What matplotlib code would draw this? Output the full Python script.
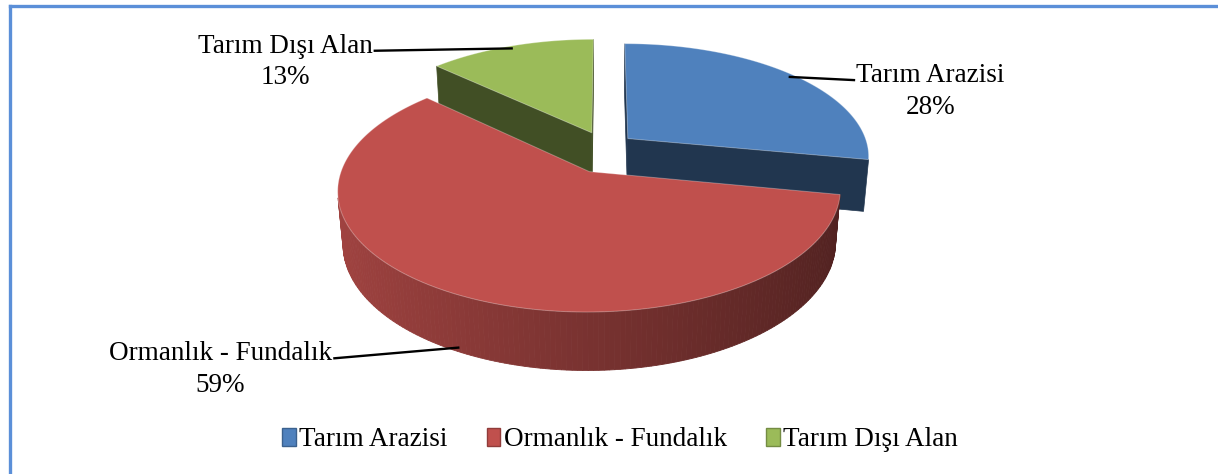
import numpy as np
import matplotlib
matplotlib.use("Agg")
import matplotlib.pyplot as plt
from matplotlib.patches import Polygon, Patch
from matplotlib.lines import Line2D
from matplotlib.colors import to_rgb

# ---- data ----
categories = ["Tarım Arazisi", "Ormanlık - Fundalık", "Tarım Dışı Alan"]
values = [28, 59, 13]
colors = ["#4F81BD", "#C0504D", "#9BBB59"]

# ---- figure ----
W, H = 1218, 474
fig = plt.figure(figsize=(W / 100, H / 100), dpi=100)
ax = fig.add_axes([0, 0, 1, 1])
ax.axis("off")

S = 242.0            # pixels per pie radius
cx, cy = 604, 152    # pixel position of pie centre
ax.set_xlim(-cx / S, (W - cx) / S)
ax.set_ylim(-(H - cy) / S, cy / S)

elev = np.radians(27.8)
ce, se = np.cos(elev), np.sin(elev)
f = 5.9
depth = 0.245
explode_x = 0.13
explode_z = 0.19
cam = np.array([0.0, f * se, -f * ce])  # (x, h, z)
FS = 19.5
FAM = "Liberation Serif"


def proj(x, h, z):
    x = np.asarray(x, float); h = np.asarray(h, float); z = np.asarray(z, float)
    Ys = h * ce + z * se
    D = z * ce - h * se
    sc = 1.0 / (1.0 + D / f)
    return x * sc, Ys * sc


def shade(col, k):
    r, g, b = to_rgb(col)
    return (r * k, g * k, b * k)


total = float(sum(values))
fr = [v / total for v in values]
starts = np.concatenate([[0], np.cumsum(fr)[:-1]]) * 360
ends = np.cumsum(fr) * 360

slices = []
for i in range(len(values)):
    t1, t2 = starts[i], ends[i]
    mid = np.radians((t1 + t2) / 2)
    ox, oz = explode_x * np.sin(mid), explode_z * np.cos(mid)
    slices.append((i, t1, t2, mid, ox, oz))

order = sorted(slices, key=lambda s_: -s_[5])

edge_kw = dict(edgecolor=(1, 1, 1, 0.3), linewidth=0.7)

rim_points = {}
for (i, t1, t2, mid, ox, oz) in order:
    col = colors[i]
    th = np.radians(np.linspace(t1, t2, 200))
    rx = ox + np.sin(th)
    rz = oz + np.cos(th)
    dark = shade(col, 0.42)

    # radial walls
    for t, sign in ((t1, -1), (t2, 1)):
        tr = np.radians(t)
        n = sign * np.array([np.cos(tr), 0, -np.sin(tr)])
        p = np.array([ox, 0, oz])
        if np.dot(n, cam - p) > 0:
            xs = [ox, ox + np.sin(tr), ox + np.sin(tr), ox]
            zs = [oz, oz + np.cos(tr), oz + np.cos(tr), oz]
            hs = [0, 0, -depth, -depth]
            X, Y = proj(xs, hs, zs)
            ax.add_patch(Polygon(np.column_stack([X, Y]), closed=True,
                                 facecolor=dark, edgecolor=dark, linewidth=0.5))

    # outer wall
    for j in range(len(th) - 1):
        tm = 0.5 * (th[j] + th[j + 1])
        n = np.array([np.sin(tm), 0, np.cos(tm)])
        p = np.array([ox + np.sin(tm), 0, oz + np.cos(tm)])
        if np.dot(n, cam - p) > 0:
            k = 0.63 - 0.21 * np.sin(tm)
            fc = shade(col, k)
            xs = [rx[j], rx[j + 1], rx[j + 1], rx[j]]
            zs = [rz[j], rz[j + 1], rz[j + 1], rz[j]]
            hs = [0, 0, -depth, -depth]
            X, Y = proj(xs, hs, zs)
            ax.add_patch(Polygon(np.column_stack([X, Y]), closed=True,
                                 facecolor=fc, edgecolor=fc, linewidth=0.6))

    # top face
    xs = np.concatenate([[ox], rx])
    zs = np.concatenate([[oz], rz])
    X, Y = proj(xs, np.zeros_like(xs), zs)
    ax.add_patch(Polygon(np.column_stack([X, Y]), closed=True,
                         facecolor=col, **edge_kw))

    rim_points[i] = (ox, oz, mid)

# ---- labels with leader lines ----
label_pos = {0: (0.764, 0.807), 1: (0.181, 0.220), 2: (0.234, 0.869)}
fig.canvas.draw()
for i in range(len(values)):
    ox, oz, mid = rim_points[i]
    pct = f"{values[i] / total * 100:.0f}%"
    tx, ty = label_pos[i]
    t = ax.text(tx, ty, f"{categories[i]}\n{pct}", transform=ax.transAxes,
                ha="center", va="center", fontsize=FS,
                family=FAM, linespacing=1.35)
    if np.cos(mid) < 0:
        X, Y = proj(ox + np.sin(mid), -depth * 0.92, oz + np.cos(mid))
    else:
        X, Y = proj(ox + 0.97 * np.sin(mid), 0, oz + 0.97 * np.cos(mid))
    fig.canvas.draw()
    bb = t.get_window_extent().transformed(ax.transData.inverted())
    line_y = bb.y1 - (bb.y1 - bb.y0) * 0.30
    first = ax.text(0, 0, categories[i], fontsize=FS, family=FAM)
    fb = first.get_window_extent().transformed(ax.transData.inverted())
    first.remove()
    w = fb.x1 - fb.x0
    xc = (bb.x0 + bb.x1) / 2
    if X > xc:
        lx = xc + w / 2 + 0.005
    else:
        lx = xc - w / 2 - 0.005
    ax.plot([lx, X], [line_y, Y], color="black", lw=1.7, solid_capstyle="butt")

# ---- legend ----
handles = [Patch(facecolor=colors[i], edgecolor=shade(colors[i], 0.75), linewidth=1.0)
           for i in range(len(values))]
fig.legend(handles, categories, loc="center", bbox_to_anchor=(0.509, 0.072),
           ncol=3, frameon=False, handlelength=0.5, handleheight=0.65,
           handletextpad=0.12, columnspacing=1.45,
           prop=dict(family=FAM, size=FS))

# ---- border ----
bc = "#5B8FD8"
fig.add_artist(Line2D([10 / W, 1], [1 - 6 / H, 1 - 6 / H], color=bc, lw=2.4,
                      transform=fig.transFigure))
fig.add_artist(Line2D([10 / W, 10 / W], [0, 1 - 6 / H], color=bc, lw=2.4,
                      transform=fig.transFigure))

fig.savefig("out.png", dpi=100, facecolor="white")
